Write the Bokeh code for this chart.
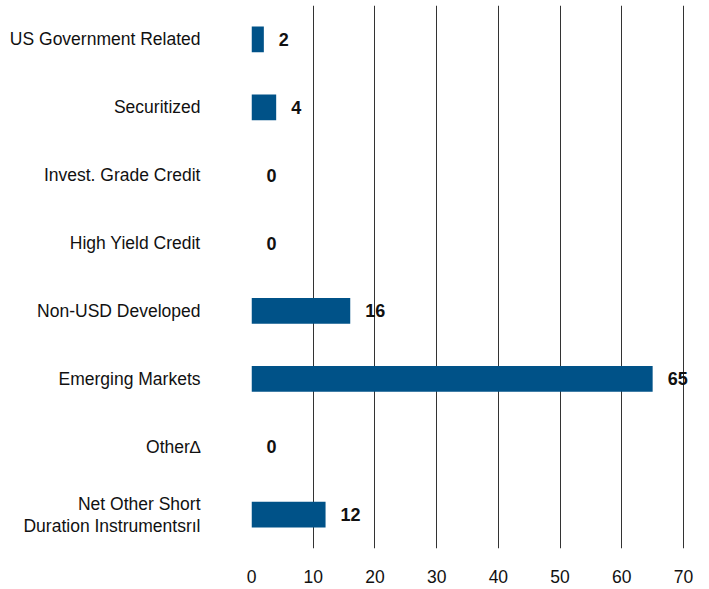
from bokeh.plotting import figure
from bokeh.models import ColumnDataSource, FixedTicker, Range1d
from bokeh.embed import file_html
from bokeh.resources import INLINE
from bokeh.core.properties import value

categories = [
    "US Government Related",
    "Securitized",
    "Invest. Grade Credit",
    "High Yield Credit",
    "Non-USD Developed",
    "Emerging Markets",
    "Other\u2206",
    "Net Other Short\nDuration Instrumentsr\u0131l",
]
values = [2, 4, 0, 0, 16, 65, 0, 12]
x_ticks = [0, 10, 20, 30, 40, 50, 60, 70]

FONT = "Liberation Sans"

src = ColumnDataSource(dict(cat=categories, val=values, lab=[str(v) for v in values]))

p = figure(
    width=709, height=589,
    y_range=list(reversed(categories)),
    x_range=Range1d(0, 74.05),
    output_backend="svg", toolbar_location=None,
    min_border_left=251, min_border_right=1, min_border_top=5, min_border_bottom=41,
)
p.outline_line_color = None
p.background_fill_color = "white"
p.border_fill_color = "white"

p.hbar(y="cat", right="val", left=0, height=0.38, source=src,
       fill_color="#005288", line_color=None)

p.text(x="val", y="cat", text="lab", source=src, x_offset=15,
       text_align="left", text_baseline="middle",
       text_font=value(FONT), text_font_style="bold",
       text_font_size="18px", text_color="#111111")

p.xaxis.ticker = FixedTicker(ticks=x_ticks)
p.xaxis.axis_line_color = None
p.xaxis.major_tick_line_color = None
p.xaxis.minor_tick_line_color = None
p.xaxis.major_label_standoff = 15
p.xaxis.major_label_text_font = FONT
p.xaxis.major_label_text_font_size = "17.5px"
p.xaxis.major_label_text_color = "#111111"

p.yaxis.axis_line_color = None
p.yaxis.major_tick_line_color = None
p.yaxis.minor_tick_line_color = None
p.yaxis.major_label_standoff = 45
p.yaxis.major_label_text_font = FONT
p.yaxis.major_label_text_font_size = "17.5px"
p.yaxis.major_label_text_color = "#111111"
p.yaxis.major_label_text_line_height = 1.1

p.xgrid.grid_line_color = "#333333"
p.xgrid.grid_line_width = 1
p.ygrid.grid_line_color = None

open("out.html", "w").write(file_html(p, INLINE))
